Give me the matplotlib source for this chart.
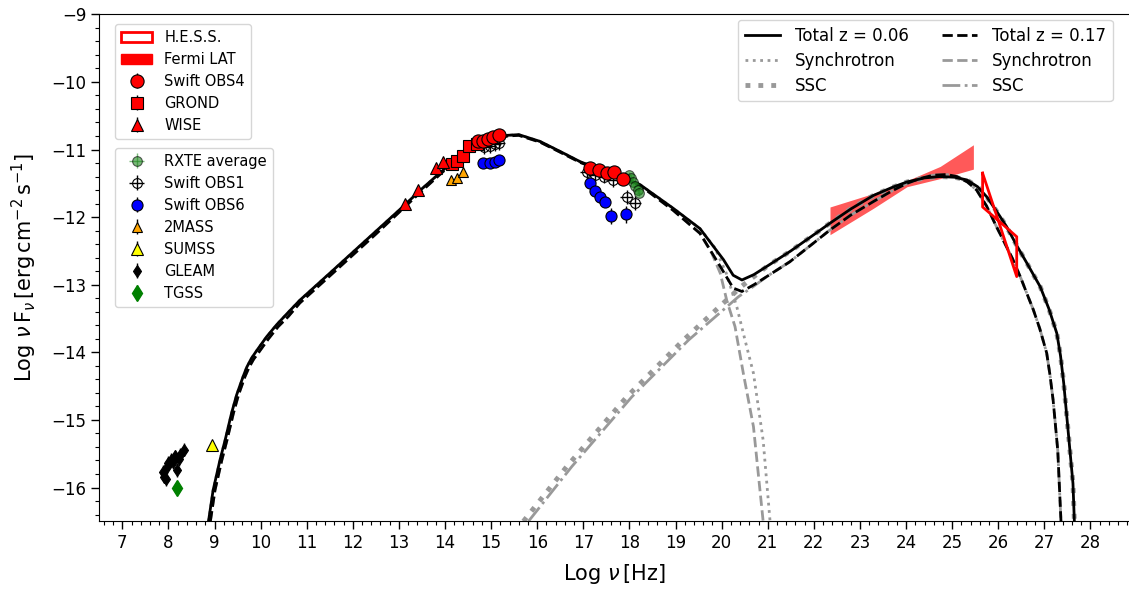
import numpy as np
import matplotlib.pyplot as plt
from matplotlib.patches import Patch
from matplotlib.ticker import MultipleLocator

# ---- model curves (log nu [Hz], log nuFnu [erg cm-2 s-1]) ----
tot06_x = [8.87, 8.97, 9.12, 9.23, 9.37, 9.48, 9.62, 9.70, 9.80, 9.92, 10.13, 10.35, 10.57,
           10.85, 11.5, 12.0, 12.5, 13.0, 13.5, 14.0, 14.5, 15.0, 15.35, 15.6, 16.06, 16.5,
           16.93, 17.5, 18.23, 18.95, 19.53, 20.04, 20.25, 20.44, 20.7, 21.0, 21.5, 22.0,
           22.35, 22.8, 23.29, 23.7, 24.02, 24.4, 24.74, 25.05, 25.32, 25.55, 25.75, 25.97,
           26.18, 26.4, 26.62, 26.91, 27.1, 27.27, 27.35, 27.42, 27.52, 27.62, 27.65]
tot06_y = [-16.5, -16.04, -15.59, -15.30, -14.90, -14.63, -14.36, -14.22, -14.09, -13.97,
           -13.77, -13.59, -13.43, -13.23, -12.83, -12.52, -12.21, -11.90, -11.58, -11.28,
           -11.02, -10.86, -10.79, -10.78, -10.88, -11.03, -11.18, -11.33, -11.52, -11.87,
           -12.17, -12.63, -12.86, -12.93, -12.85, -12.72, -12.50, -12.26, -12.09, -11.88,
           -11.68, -11.56, -11.48, -11.42, -11.40, -11.41, -11.45, -11.55, -11.70, -11.92,
           -12.14, -12.42, -12.68, -13.03, -13.36, -13.72, -14.05, -14.46, -15.20, -15.94,
           -16.5]

tot17_x = [8.91, 9.01, 9.16, 9.27, 9.41, 9.52, 9.66, 9.75, 9.85, 9.97, 10.17, 10.38, 10.6,
           10.85, 11.5, 12.0, 12.5, 13.0, 13.5, 14.0, 14.5, 15.0, 15.35, 15.6, 16.06, 16.5,
           16.93, 17.5, 18.23, 18.95, 19.53, 19.97, 20.25, 20.44, 20.7, 21.0, 21.48, 22.0,
           22.35, 22.8, 23.29, 23.7, 24.02, 24.3, 24.59, 24.88, 25.10, 25.33, 25.53, 25.75,
           25.96, 26.15, 26.32, 26.5, 26.62, 26.76, 26.9, 27.05, 27.12, 27.19, 27.29, 27.36]
tot17_y = [-16.5, -16.04, -15.59, -15.30, -14.90, -14.63, -14.36, -14.22, -14.10, -13.99,
           -13.80, -13.62, -13.47, -13.27, -12.87, -12.56, -12.25, -11.93, -11.61, -11.30,
           -11.04, -10.87, -10.80, -10.79, -10.89, -11.04, -11.19, -11.34, -11.53, -11.90,
           -12.24, -12.73, -13.05, -13.10, -13.00, -12.87, -12.66, -12.38, -12.19, -11.97,
           -11.77, -11.61, -11.50, -11.43, -11.38, -11.37, -11.40, -11.48, -11.60, -11.84,
           -12.14, -12.40, -12.63, -12.92, -13.13, -13.37, -13.65, -14.01, -14.33, -14.71,
           -15.45, -16.5]

# synchrotron cut-off tails (below the totals they follow)
sync06_tail_x = [19.85, 20.1, 20.33, 20.5, 20.69, 20.90, 21.05]
sync06_tail_y = [-12.45, -12.83, -13.33, -13.80, -14.31, -15.30, -16.5]
sync17_tail_x = [19.79, 19.97, 20.11, 20.29, 20.47, 20.69, 20.90]
sync17_tail_y = [-12.54, -12.83, -13.23, -13.62, -14.31, -15.10, -16.5]

# SSC rising parts (before they merge with the totals)
ssc06_low_x = [15.70, 16.64, 17.94, 19.17, 20.15, 20.44, 20.7]
ssc06_low_y = [-16.5, -15.69, -14.66, -13.82, -13.20, -13.02, -12.88]
ssc17_low_x = [15.81, 16.75, 18.05, 19.28, 20.36, 20.7]
ssc17_low_y = [-16.5, -15.69, -14.66, -13.82, -13.18, -13.02]

# ---- data ----
fermi_x = [22.35, 23.29, 24.02, 24.74, 25.46]
fermi_lo = [-12.26, -11.87, -11.55, -11.43, -11.29]
fermi_hi = [-11.85, -11.65, -11.46, -11.25, -10.93]

hess_x = [25.66, 26.0, 26.40, 26.40, 26.0, 25.66, 25.66]
hess_y = [-11.35, -12.05, -12.29, -12.88, -12.05, -11.85, -11.35]

obs4_x = [14.72, 14.83, 14.94, 15.05, 15.18, 17.15, 17.33, 17.51, 17.67, 17.85]
obs4_y = [-10.88, -10.87, -10.84, -10.81, -10.79, -11.28, -11.30, -11.35, -11.33, -11.43]

grond_x = [14.15, 14.27, 14.40, 14.53, 14.69]
grond_y = [-11.21, -11.17, -11.10, -10.95, -10.92]

wise_x = [13.13, 13.42, 13.80, 13.95]
wise_y = [-11.80, -11.60, -11.27, -11.18]

rxte_x = [17.98, 18.03, 18.08, 18.13, 18.18, 18.21]
rxte_y = [-11.38, -11.42, -11.48, -11.54, -11.60, -11.64]

obs1_x = [14.85, 14.97, 15.08, 15.16, 17.07, 17.25, 17.45, 17.65, 17.94, 18.11]
obs1_y = [-10.97, -10.95, -10.92, -10.90, -11.33, -11.37, -11.40, -11.45, -11.70, -11.79]

obs6_x = [14.83, 14.98, 15.08, 15.18, 17.15, 17.25, 17.36, 17.47, 17.59, 17.92]
obs6_y = [-11.20, -11.20, -11.18, -11.16, -11.49, -11.61, -11.70, -11.77, -11.98, -11.96]
obs6_err = [0.03, 0.03, 0.03, 0.03, 0.03, 0.03, 0.04, 0.05, 0.12, 0.12]

mass2_x = [14.13, 14.27, 14.38]
mass2_y = [-11.45, -11.42, -11.33]

sumss_x = [8.94]
sumss_y = [-15.37]

gleam_x = [7.88, 7.90, 7.95, 7.96, 8.00, 8.05, 8.10, 8.14, 8.19, 8.22, 8.25, 8.34]
gleam_y = [-15.77, -15.84, -15.88, -15.70, -15.64, -15.59, -15.62, -15.54, -15.74, -15.58,
           -15.52, -15.44]

tgss_x = [8.18]
tgss_y = [-16.01]

plt.rcParams['font.family'] = 'DejaVu Sans'
fig = plt.figure(figsize=(11.29, 5.89), dpi=100)
ax = fig.add_axes([0.0879, 0.1149, 0.9127, 0.8608])

t06x, t06y = np.array(tot06_x), np.array(tot06_y)
t17x, t17y = np.array(tot17_x), np.array(tot17_y)
m = t06x <= 19.53
sync06 = (np.r_[t06x[m], sync06_tail_x], np.r_[t06y[m], sync06_tail_y])
m = t17x <= 19.53
sync17 = (np.r_[t17x[m], sync17_tail_x], np.r_[t17y[m], sync17_tail_y])
m = t06x >= 21.0
ssc06 = (np.r_[ssc06_low_x, t06x[m]], np.r_[ssc06_low_y, t06y[m]])
m = t17x >= 21.0
ssc17 = (np.r_[ssc17_low_x, t17x[m]], np.r_[ssc17_low_y, t17y[m]])

grey = '0.6'
l_s06, = ax.plot(*sync06, ':', color=grey, lw=2, label='Synchrotron')
l_c06, = ax.plot(*ssc06, ':', color=grey, lw=3.5, label='SSC')
l_s17, = ax.plot(*sync17, '--', color=grey, lw=2, label='Synchrotron')
l_c17, = ax.plot(*ssc17, '-.', color=grey, lw=2, label='SSC')
l_t06, = ax.plot(t06x, t06y, '-', color='k', lw=2, label='Total z = 0.06')
l_t17, = ax.plot(t17x, t17y, '--', color='k', lw=2, label='Total z = 0.17')

ax.fill_between(fermi_x, fermi_lo, fermi_hi, color='red', alpha=0.65, lw=0)
ax.plot(hess_x, hess_y, color='red', lw=2)

kw = dict(ls='none', capsize=0, elinewidth=1, mec='k', mew=0.8)
e_rxte = ax.errorbar(rxte_x, rxte_y, xerr=0.05, yerr=0.05, fmt='o', color='forestgreen',
                     alpha=0.6, ms=7, label='RXTE average', **kw)
e_obs1 = ax.errorbar(obs1_x, obs1_y, xerr=0.14, yerr=0.1, fmt='o', color='k', mfc='none',
                     ms=7, label='Swift OBS1', **kw)
e_obs6 = ax.errorbar(obs6_x, obs6_y, yerr=obs6_err, fmt='o', color='b', ms=8,
                     ecolor='k', label='Swift OBS6', **kw)
e_grond = ax.errorbar(grond_x, grond_y, yerr=0.03, fmt='s', color='red', ms=8,
                      ecolor='k', label='GROND', **kw)
e_wise = ax.errorbar(wise_x, wise_y, yerr=0.03, fmt='^', color='red', ms=9,
                     ecolor='k', label='WISE', **kw)
e_obs4 = ax.errorbar(obs4_x, obs4_y, yerr=0.03, fmt='o', color='red', ms=9.5,
                     ecolor='k', label='Swift OBS4', **kw)
e_2mass = ax.errorbar(mass2_x, mass2_y, yerr=0.03, fmt='^', color='orange', ms=7.5,
                      ecolor='k', label='2MASS', **kw)
e_sumss = ax.errorbar(sumss_x, sumss_y, yerr=0.03, fmt='^', color='yellow', ms=8,
                      ecolor='k', label='SUMSS', **kw)
e_gleam = ax.errorbar(gleam_x, gleam_y, yerr=0.1, fmt='d', color='k', ms=6,
                      ecolor='k', label='GLEAM', **kw)
e_tgss = ax.errorbar(tgss_x, tgss_y, yerr=0.04, fmt='d', color='g', ms=8, ecolor='g',
                     ls='none', capsize=0, elinewidth=1, mec='g', label='TGSS')

ax.set_xlim(6.5, 28.85)
ax.set_ylim(-16.5, -9)
ax.xaxis.set_major_locator(MultipleLocator(1))
ax.xaxis.set_minor_locator(MultipleLocator(0.2))
ax.yaxis.set_major_locator(MultipleLocator(1))
ax.yaxis.set_minor_locator(MultipleLocator(0.2))
ax.tick_params(which='major', length=5.5, width=1, labelsize=12)
ax.tick_params(which='minor', length=3, width=0.8)
ax.set_xlabel(r'Log $\nu\,[\mathrm{Hz}]$', fontsize=15, labelpad=7)
ax.set_ylabel(r'Log $\nu\,\mathrm{F}_\nu\,[\mathrm{erg\,cm^{-2}\,s^{-1}}]$', fontsize=15,
              labelpad=9)

hess_patch = Patch(facecolor='white', edgecolor='red', lw=2, label='H.E.S.S.')
fermi_patch = Patch(facecolor='red', edgecolor='red', label='Fermi LAT')

lkw = dict(fontsize=10.5, loc='upper left', borderaxespad=0, labelspacing=0.48,
           handlelength=2.17)
leg1 = ax.legend([hess_patch, fermi_patch, e_obs4, e_grond, e_wise],
                 ['H.E.S.S.', 'Fermi LAT', 'Swift OBS4', 'GROND', 'WISE'],
                 bbox_to_anchor=(0.0153, 0.981), **lkw)
ax.add_artist(leg1)
leg2 = ax.legend([e_rxte, e_obs1, e_obs6, e_2mass, e_sumss, e_gleam, e_tgss],
                 ['RXTE average', 'Swift OBS1', 'Swift OBS6', '2MASS', 'SUMSS', 'GLEAM', 'TGSS'],
                 bbox_to_anchor=(0.0153, 0.7363), **lkw)
ax.add_artist(leg2)
ax.legend([l_t06, l_s06, l_c06, l_t17, l_s17, l_c17],
          ['Total z = 0.06', 'Synchrotron', 'SSC', 'Total z = 0.17', 'Synchrotron', 'SSC'],
          ncol=2, fontsize=12, loc='upper left', bbox_to_anchor=(0.620, 0.9888),
          borderaxespad=0, labelspacing=0.42, handlelength=2.1, handletextpad=0.9,
          columnspacing=2.0)

fig.savefig('out.png', dpi=100)
